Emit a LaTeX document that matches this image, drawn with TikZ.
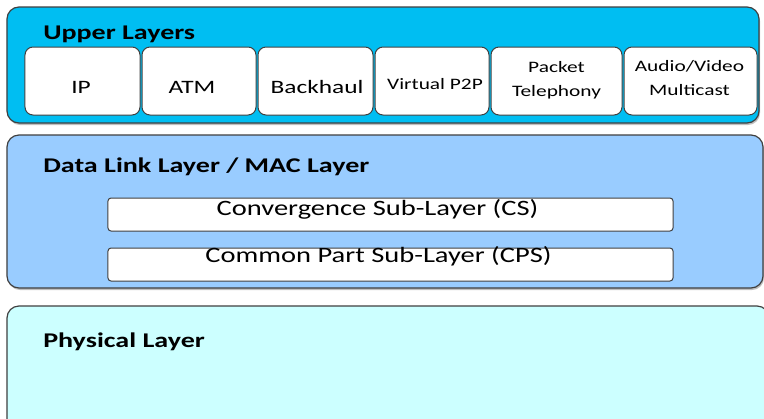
\documentclass[tikz,border=0pt]{standalone}
\usepackage{fontspec}
\setmainfont{Carlito}
\usetikzlibrary{shadows}
\definecolor{upperfill}{RGB}{0,190,242}
\definecolor{linkfill}{RGB}{153,204,255}
\definecolor{physfill}{RGB}{204,255,255}
\definecolor{edge}{RGB}{64,64,64}
\begin{document}
\begin{tikzpicture}[x=1bp,y=-1bp,
  layerbox/.style={draw=edge, line width=1.2bp, rounded corners=12bp, inner sep=0pt,
    drop shadow={shadow xshift=1bp, shadow yshift=-2bp, opacity=0.25, fill=black}},
  protobox/.style={draw=edge, line width=1bp, fill=white, rounded corners=8bp, inner sep=0pt,
    minimum height=68bp},
  subbox/.style={draw=edge, line width=1bp, fill=white, rounded corners=3bp, inner sep=0pt,
    minimum width=565bp, minimum height=33bp},
  stretch/.style={xscale=1.34, transform shape, inner sep=0pt},
  title/.style={stretch, anchor=base west, font=\fontsize{21}{24}\selectfont\bfseries},
  big/.style={stretch, font=\fontsize{19}{22}\selectfont},
  small/.style={stretch, align=center, font=\fontsize{16}{24.5}\selectfont},
  sublabel/.style={xscale=1.3, transform shape, inner sep=0pt, anchor=base, font=\fontsize{22}{26}\selectfont}
]
\useasboundingbox (0,0) rectangle (764,418);
\fill[white] (0,0) rectangle (764,418);

% layer boxes
\node[layerbox, fill=upperfill, minimum width=752bp, minimum height=116bp] (upper) at (383,65) {};
\node[layerbox, fill=linkfill, minimum width=756bp, minimum height=153bp] (link) at (385,211.5) {};
\node[layerbox, fill=physfill, minimum width=762bp, minimum height=130bp] (phys) at (388,371) {};

% titles
\node[title] (uppert) at (43,39) {Upper Layers};
\node[title] (linkt) at (43,172) {Data Link Layer / MAC Layer};
\node[title] (physt) at (43,347) {Physical Layer};

% protocol boxes
\node[protobox, minimum width=115bp] (ip) at (82.5,81) {};
\node[protobox, minimum width=114bp] (atm) at (199,81) {};
\node[protobox, minimum width=115bp] (back) at (315.5,81) {};
\node[protobox, minimum width=114bp] (vp2p) at (432,81) {};
\node[protobox, minimum width=131bp] (pt) at (556.5,81) {};
\node[protobox, minimum width=133bp] (av) at (690.5,81) {};
\node[big] (ipt) at (81,87) {IP};
\node[big] (atmt) at (192,87) {ATM};
\node[big] (backt) at (317,87) {Backhaul};
\node[small] (vp2pt) at (435,84) {Virtual P2P};
\node[small] (ptt) at (556.5,80.5) {Packet\\Telephony};
\node[small] (avt) at (689.5,78) {Audio/Video\\Multicast};

% sub-layers
\node[subbox] (cs) at (390.5,214.5) {};
\node[subbox] (cps) at (390.5,264.5) {};
\node[sublabel] (cst) at (377.5,215) {Convergence Sub-Layer (CS)};
\node[sublabel] (cpst) at (378.5,262) {Common Part Sub-Layer (CPS)};
\end{tikzpicture}
\end{document}
